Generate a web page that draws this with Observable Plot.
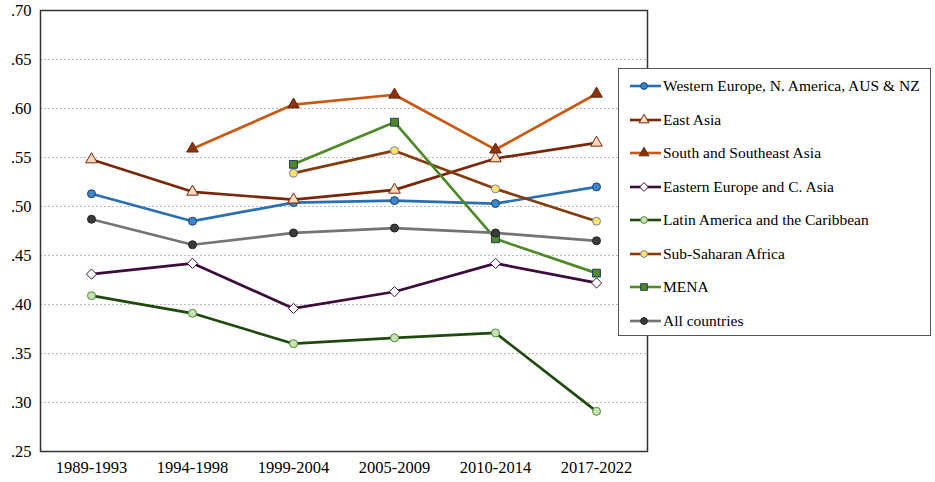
<!DOCTYPE html>
<html><head><meta charset="utf-8">
<script src="https://cdn.jsdelivr.net/npm/d3@7"></script>
<script src="https://cdn.jsdelivr.net/npm/@observablehq/plot@0.6"></script>
<style>
body{margin:0;background:#fff}
#wrap{position:relative;width:935px;height:482px;font-family:'Liberation Serif','Times New Roman',serif}
#legend{position:absolute;left:618px;top:68px;width:311px;height:266px;border:1.5px solid #555;background:#fff}
.row{position:absolute;left:10px;height:20px;display:flex;align-items:center;font-size:15.5px;color:#000;white-space:nowrap;font-family:'Liberation Serif','Times New Roman',serif}
.row svg{display:block;margin-right:1px}
</style></head><body><div id="wrap"></div>
<script>
const periods = ["1989-1993","1994-1998","1999-2004","2005-2009","2010-2014","2017-2022"];
const seriesNames = ["Western Europe, N. America, AUS & NZ","East Asia","South and Southeast Asia","Eastern Europe and C. Asia","Latin America and the Caribbean","Sub-Saharan Africa","MENA","All countries"];
const westernEurope = [0.513,0.485,0.504,0.506,0.503,0.520];
const eastAsia = [0.548,0.515,0.507,0.517,0.549,0.565];
const southAsia = [null,0.559,0.604,0.614,0.558,0.615];
const easternEurope = [0.431,0.442,0.396,0.413,0.442,0.422];
const latinAmerica = [0.409,0.391,0.360,0.366,0.371,0.291];
const subSaharan = [null,null,0.534,0.557,0.518,0.485];
const mena = [null,null,0.543,0.586,0.467,0.432];
const allCountries = [0.487,0.461,0.473,0.478,0.473,0.465];
const yTicks = [0.25,0.30,0.35,0.40,0.45,0.50,0.55,0.60,0.65,0.70];

const seriesValues = [westernEurope,eastAsia,southAsia,easternEurope,latinAmerica,subSaharan,mena,allCountries];
const styles = [
  {line:"#2a6fb3", symbol:"circle", fill:"#3b86cc", stroke:"#1c3f66"},
  {line:"#7a2608", symbol:"triangle", fill:"#fbd9bd", stroke:"#7a2608"},
  {line:"#c85812", symbol:"triangle", fill:"#8a330d", stroke:"#6a250a"},
  {line:"#3c0d3a", symbol:"diamond2", fill:"#ffffff", stroke:"#3c0d3a"},
  {line:"#1f4a0d", symbol:"circle", fill:"#c7e3b6", stroke:"#4f8a2f"},
  {line:"#843c0c", symbol:"circle", fill:"#ffe466", stroke:"#7f7f9f"},
  {line:"#4e8a28", symbol:"square", fill:"#4e8a28", stroke:"#1f3b5c"},
  {line:"#777373", symbol:"circle", fill:"#3a3a3a", stroke:"#222222"}
];
const sizes = {circle:4.0, triangle:4.3, diamond2:4.6, square:4.4};
const FONT = "'Liberation Serif','Times New Roman',serif";

const marks = [
  Plot.gridY(yTicks.filter(t => t > 0.26 && t < 0.69), {stroke:"#b8b8b8", strokeOpacity:1, strokeDasharray:"2,2"}),
  Plot.axisY({ticks:yTicks, tickSize:0, tickPadding:9, tickFormat: d => d3.format(".2f")(d).replace(/^0/, ""), label:null, fontSize:16.5, fontFamily:FONT, fill:"#000"}),
  Plot.axisX({tickSize:0, tickPadding:10, label:null, fontSize:16.5, fontFamily:FONT, fill:"#000"})
];
seriesValues.forEach((vals, i) => {
  const data = periods.map((p, j) => ({period:p, value:vals[j]})).filter(d => d.value != null);
  const s = styles[i];
  marks.push(Plot.line(data, {x:"period", y:"value", stroke:s.line, strokeWidth:2.7}));
  marks.push(Plot.dot(data, {x:"period", y:"value", symbol:()=>s.symbol, fill:s.fill, stroke:s.stroke, strokeWidth:1, r:sizes[s.symbol]}));
});
marks.push(Plot.frame({stroke:"#333", strokeWidth:1.5}));

const chart = Plot.plot({
  width:935, height:482,
  marginLeft:40, marginRight:288, marginTop:10, marginBottom:31,
  style:{fontFamily:FONT, fontSize:"16.5px", color:"#000", background:"#fff"},
  x:{type:"point", domain:periods, padding:0.5},
  y:{domain:[0.25,0.70]},
  symbol:{type:"identity"},
  marks
});
const wrap = document.getElementById("wrap");
wrap.appendChild(chart);

const legend = document.createElement("div");
legend.id = "legend";
const symMap = {circle:d3.symbolCircle, triangle:d3.symbolTriangle, diamond2:d3.symbolDiamond2, square:d3.symbolSquare};
seriesNames.forEach((name, i) => {
  const s = styles[i];
  const row = document.createElement("div");
  row.className = "row";
  row.style.top = (7 + i*33.5) + "px";
  const r = sizes[s.symbol]*0.85;
  const path = d3.symbol(symMap[s.symbol], Math.PI*r*r)();
  row.innerHTML = `<svg width="33" height="20"><line x1="1" x2="32" y1="10" y2="10" stroke="${s.line}" stroke-width="2.6"/><path transform="translate(15,10)" d="${path}" fill="${s.fill}" stroke="${s.stroke}" stroke-width="1"/></svg><span>${name.replace(/&/g,"&amp;")}</span>`;
  legend.appendChild(row);
});
wrap.appendChild(legend);
</script></body></html>
